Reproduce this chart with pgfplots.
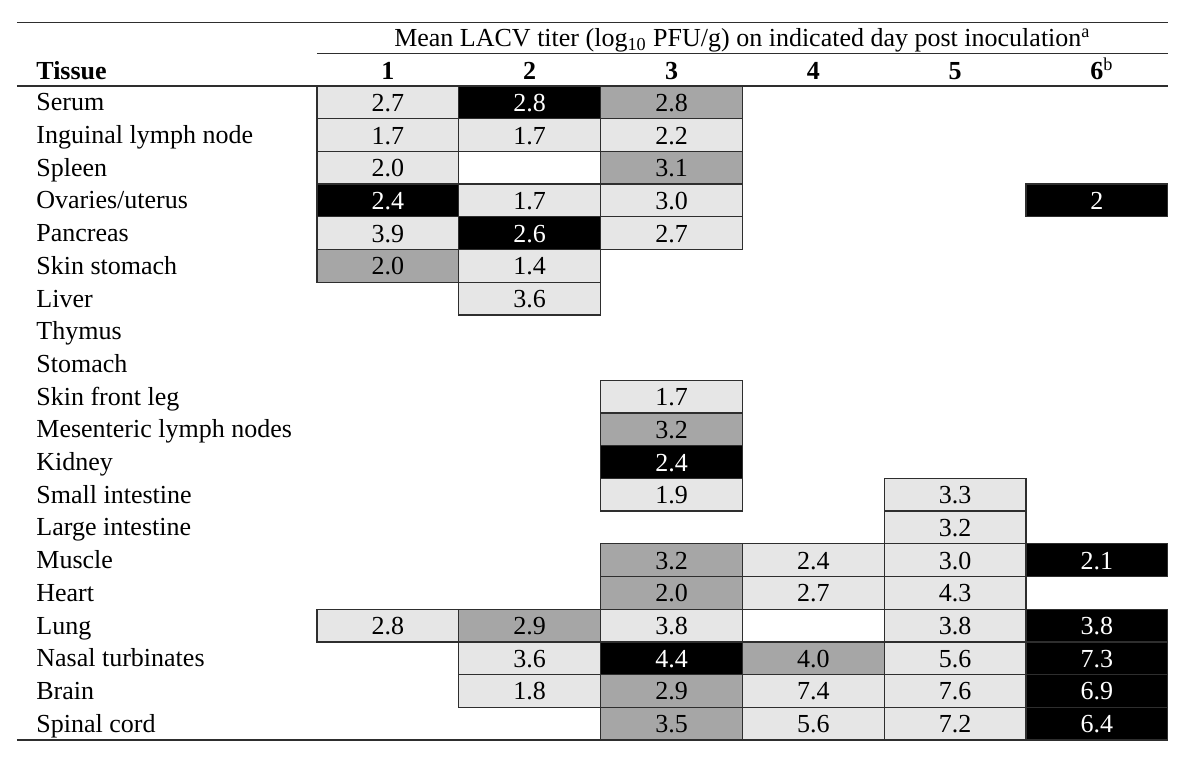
\documentclass[border=0pt]{standalone}
\usepackage{pgfplots}
\pgfplotsset{compat=1.18}
\usepackage{fontspec}
\setmainfont{Liberation Serif}

\definecolor{cellL}{HTML}{E6E6E6}
\definecolor{cellD}{HTML}{A6A6A6}
\definecolor{cellB}{HTML}{000000}
\definecolor{rulec}{HTML}{2E2E2E}

% one table cell: 1 column wide, 1 row high (x=70.9pt, y=16.35pt)
\pgfdeclareplotmark{cell}{%
  \pgfpathrectangle{\pgfqpoint{-35.45pt}{-8.175pt}}{\pgfqpoint{70.9pt}{16.35pt}}%
  \pgfusepathqfillstroke}

\tikzset{
  lbl/.style={font=\fontsize{13pt}{15pt}\selectfont, inner sep=0pt},
}

\begin{document}
\begin{tikzpicture}
\begin{axis}[
    x=70.9pt, y=16.35pt, y dir=reverse,
    xmin=-1.7355, xmax=6.7271,
    ymin=-2.13, ymax=21.173,
    hide axis, clip=false,
    only marks, mark=cell,
    nodes near coords,
    point meta=explicit symbolic,
    nodes near coords align={anchor=base},
    every node near coord/.append style={font=\fontsize{13pt}{15pt}\selectfont, inner sep=0pt, yshift=-4.5pt},
]

% light grey cells
\addplot[mark options={fill=cellL, draw=rulec, line width=0.65pt},
  every node near coord/.append style={text=black}] table[meta=v] {
x y v
1 1 2.7
1 2 1.7
2 2 1.7
3 2 2.2
1 3 2.0
2 4 1.7
3 4 3.0
1 5 3.9
3 5 2.7
2 6 1.4
2 7 3.6
3 10 1.7
3 13 1.9
5 13 3.3
5 14 3.2
4 15 2.4
5 15 3.0
4 16 2.7
5 16 4.3
1 17 2.8
3 17 3.8
5 17 3.8
2 18 3.6
5 18 5.6
2 19 1.8
4 19 7.4
5 19 7.6
4 20 5.6
5 20 7.2
};

% dark grey cells
\addplot[mark options={fill=cellD, draw=rulec, line width=0.65pt},
  every node near coord/.append style={text=black}] table[meta=v] {
x y v
3 1 2.8
3 3 3.1
1 6 2.0
3 11 3.2
3 15 3.2
3 16 2.0
2 17 2.9
4 18 4.0
3 19 2.9
3 20 3.5
};

% black cells
\addplot[mark options={fill=cellB, draw=rulec, line width=0.65pt},
  every node near coord/.append style={text=white}] table[meta=v] {
x y v
2 1 2.8
1 4 2.4
6 4 2
2 5 2.6
3 12 2.4
6 15 2.1
6 17 3.8
3 18 4.4
6 18 7.3
6 19 6.9
6 20 6.4
};

% rules
\draw[rulec, line width=0.7pt] (axis cs:-1.6157,-1.436) -- (axis cs:6.5,-1.436);
\draw[rulec, line width=0.7pt] (axis cs:0.5,-0.5) -- (axis cs:6.5,-0.5);
\draw[rulec, line width=0.7pt] (axis cs:-1.6157,0.5) -- (axis cs:6.5,0.5);
\draw[rulec, line width=0.7pt] (axis cs:-1.6157,20.5) -- (axis cs:6.5,20.5);

% header
\node[lbl, anchor=base] at (axis cs:3.5,-0.702)
  {Mean LACV titer (log\textsubscript{10} PFU/g) on indicated day post inoculation\textsuperscript{a}};
\node[lbl, anchor=base west, font=\fontsize{13pt}{15pt}\selectfont\bfseries] at (axis cs:-1.4817,0.286) {Tissue};
\node[lbl, anchor=base, font=\fontsize{13pt}{15pt}\selectfont\bfseries] at (axis cs:1,0.286) {1};
\node[lbl, anchor=base, font=\fontsize{13pt}{15pt}\selectfont\bfseries] at (axis cs:2,0.286) {2};
\node[lbl, anchor=base, font=\fontsize{13pt}{15pt}\selectfont\bfseries] at (axis cs:3,0.286) {3};
\node[lbl, anchor=base, font=\fontsize{13pt}{15pt}\selectfont\bfseries] at (axis cs:4,0.286) {4};
\node[lbl, anchor=base, font=\fontsize{13pt}{15pt}\selectfont\bfseries] at (axis cs:5,0.286) {5};
\node[lbl, anchor=base, font=\fontsize{13pt}{15pt}\selectfont\bfseries] at (axis cs:6,0.286) {6\rlap{\textsuperscript{\mdseries b}}};

% tissue names
\node[lbl, anchor=base west] at (axis cs:-1.4817,1.26) {Serum};
\node[lbl, anchor=base west] at (axis cs:-1.4817,2.26) {Inguinal lymph node};
\node[lbl, anchor=base west] at (axis cs:-1.4817,3.26) {Spleen};
\node[lbl, anchor=base west] at (axis cs:-1.4817,4.26) {Ovaries/uterus};
\node[lbl, anchor=base west] at (axis cs:-1.4817,5.26) {Pancreas};
\node[lbl, anchor=base west] at (axis cs:-1.4817,6.26) {Skin stomach};
\node[lbl, anchor=base west] at (axis cs:-1.4817,7.26) {Liver};
\node[lbl, anchor=base west] at (axis cs:-1.4817,8.26) {Thymus};
\node[lbl, anchor=base west] at (axis cs:-1.4817,9.26) {Stomach};
\node[lbl, anchor=base west] at (axis cs:-1.4817,10.26) {Skin front leg};
\node[lbl, anchor=base west] at (axis cs:-1.4817,11.26) {Mesenteric lymph nodes};
\node[lbl, anchor=base west] at (axis cs:-1.4817,12.26) {Kidney};
\node[lbl, anchor=base west] at (axis cs:-1.4817,13.26) {Small intestine};
\node[lbl, anchor=base west] at (axis cs:-1.4817,14.26) {Large intestine};
\node[lbl, anchor=base west] at (axis cs:-1.4817,15.26) {Muscle};
\node[lbl, anchor=base west] at (axis cs:-1.4817,16.26) {Heart};
\node[lbl, anchor=base west] at (axis cs:-1.4817,17.26) {Lung};
\node[lbl, anchor=base west] at (axis cs:-1.4817,18.26) {Nasal turbinates};
\node[lbl, anchor=base west] at (axis cs:-1.4817,19.26) {Brain};
\node[lbl, anchor=base west] at (axis cs:-1.4817,20.26) {Spinal cord};

% keep the page the size of the whole picture
\path (rel axis cs:0,0) rectangle (rel axis cs:1,1);
\end{axis}
\end{tikzpicture}
\end{document}
